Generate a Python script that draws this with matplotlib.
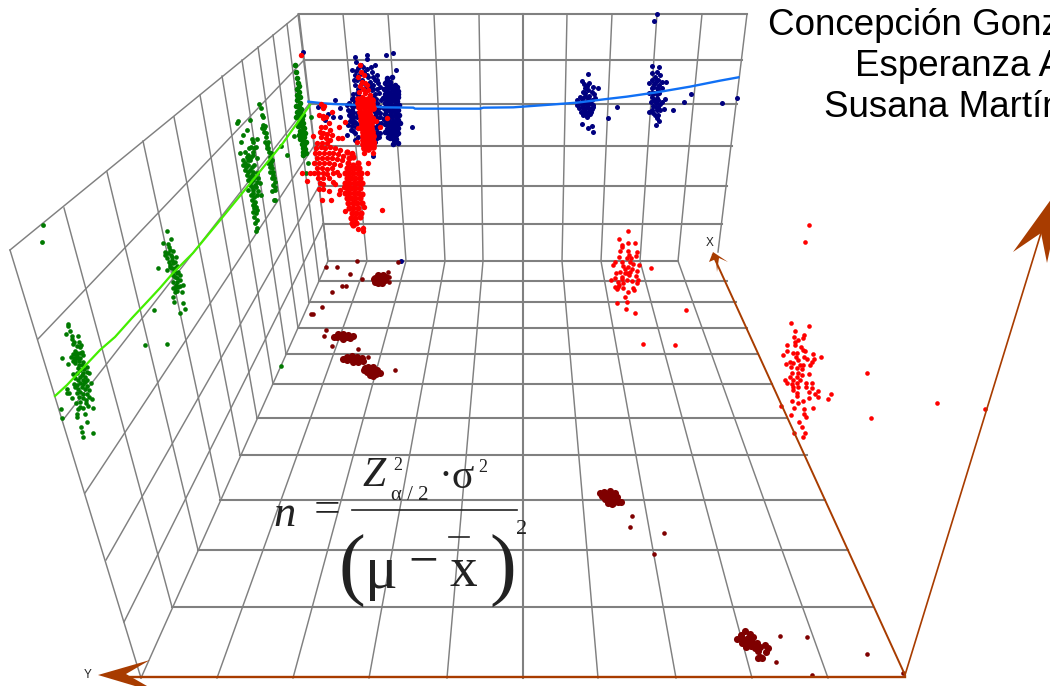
import matplotlib
matplotlib.use("Agg")
import matplotlib.pyplot as plt

# ---- data in 3x crop units (converted by crop origin below)
green_a = [(204,281),(204,288),(210,303),(197,313),(216,318),(233,317),(215,328),(222,335),(238,337),(244,345),(232,348),(218,342),(240,352),(246,366),(225,362),(218,372),(232,368),(248,375),(186,385),(214,382),(222,385),(240,385),(230,378),(218,392),(236,392),(248,395),(205,403),(225,400),(238,405),(262,412),(252,418),(218,432),(240,420),(262,425),(232,428),(268,428),(245,435),(255,440),(226,445),(248,450),(262,450),(240,458),(222,462),(232,465),(250,462),(272,460),(262,468),(226,470),(200,478),(240,485),(268,480),(208,488),(200,490),(232,490),(262,492),(217,503),(236,500),(250,505),(268,500),(228,518),(240,515),(258,520),(276,507),(265,528),(278,535),(183,537),(235,537),(248,535),(230,552),(254,553),(232,562),(186,565),(261,575),(244,590),(247,605),(278,608),(250,620),
 (225,372),(240,370),(230,385),(225,392),(245,405),(235,415),(250,428),(240,440),(255,455),(235,450),(245,470),(255,478),(235,478),(248,492),(258,510),(240,530),
 (512,28),(490,38),(503,42),(506,50),(519,62),(496,65),(495,75),(512,75),(528,82),(502,85),(515,90),(506,95),(520,100),(510,105),(475,113),(500,120),(515,115),(530,108),(522,122),(535,125),(540,135),(518,135),(530,145),(540,150),(520,155),(548,165),(528,165),(535,172),(518,175),(530,182),(545,185),(525,185),(519,202),(550,219),(522,215),(461,239),(556,236),(539,249),(434,344),(500,341),(500,3),(843,408),
 (510,60),(505,70),(515,80),(525,95),(510,110),(525,115),(530,130),(525,140),(530,155),(540,168),(525,175)]
green_b = [(128,675),(125,725),(715,362),(712,370),(750,360),(740,390),(728,405),(722,425),(755,418),(770,418),(752,440),(762,445),(720,460),(735,455),(745,465),(760,465),(730,480),(750,480),(770,475),(735,490),(728,495),(745,495),(762,495),(735,510),(750,510),(740,525),(755,525),(770,520),(745,540),(760,540),(775,535),(750,555),(765,555),(780,550),(745,570),(758,570),(775,572),(782,585),(752,585),(762,590),(755,600),(765,605),(758,615),(768,620),(760,635),(768,640),(762,650),(770,660),(765,670),(772,685),(768,692),
 (740,470),(752,470),(738,500),(755,500),(745,515),(758,515),(750,530),(765,530),(752,545),(770,545),(755,562),(768,562),(760,578),(770,585),(762,612),(770,630),(763,625),(748,445),(758,455),(768,440),(760,425),(745,480),
 (778,312),(782,325),(785,345),(790,352),(795,378),(785,385),(792,395),(798,410),(795,425),(802,435),(800,445),(808,455),(810,470),(812,485),(805,490),(815,505),(810,515),(820,525),(815,535),(825,545),(818,555),(825,570),(815,572),(825,600),(822,600),
 (798,400),(800,430),(805,445),(812,460),(815,480),(812,495),(818,515),(822,535),(810,500),(825,560),(788,375),(792,385),(803,425),
 (933,352),(923,488),(917,518),(860,465),(843,437),(882,408)]
green_column = [(885,195),(888,215),(890,235),(893,250),(897,258),(892,268),(898,275),(890,285),(900,290),(892,300),(900,308),(888,318),(896,322),(904,328),(890,335),(900,340),(908,345),(888,350),(898,352),(905,358),(898,365),(910,368),(895,378),(905,378),(912,385),(900,392),(908,395),(916,398),(898,405),(905,408),(913,410),(900,418),(908,422),(918,425),(905,432),(913,435),(908,445),(916,448),(910,456),(918,458),(910,465)]
blue_pts = [(38,155),(288,165),(308,158),(318,210),(1100,42),(1093,62),(366,381),(135,300),(150,325),(83,320),(115,342),(130,352),(150,352),(105,360),(172,405),(195,420),(333,782),
 (195,172),(230,165),(198,185),(230,178),(255,195),(212,195),(185,210),(242,200),(222,215),(196,225),(245,215),(260,225),(192,240),(235,232),(255,240),(265,250),(196,255),(250,255),(270,262),(205,268),(262,268),(190,282),(255,282),(268,280),(185,298),(195,305),(258,298),(272,300),(172,315),(185,318),(258,315),(175,330),(190,335),(265,332),(178,345),(192,350),(255,348),(270,350),(180,362),(195,365),(260,365),(272,368),(185,378),(198,382),(258,382),(190,392),(262,395),(250,405),(268,410),(255,425),(182,352),(188,368),(262,355),(205,230),(215,240),(240,245),(228,255),(245,270),(240,285),(205,285),(185,330),(250,320),(255,335),(178,310),(260,415),(205,410),
 (200,240),(212,252),(225,268),(250,268),(200,280),(215,295),(190,295),(248,292),(262,310),(240,300),(200,318),(190,322),(262,322),(252,330),(202,340),(186,342),(258,342),(270,338),(200,352),(186,360),(250,362),(265,375),(190,350),(200,372),(175,375),(182,390),(250,380),(262,385),(195,400),(258,405),(252,395),(270,400),(220,200),(205,205),(232,208),(198,212),(210,222),(230,225),(250,230),(262,240),(240,258),(180,335),(270,320),
 (893,222),(877,243),(882,252),(897,250),(908,262),(924,263),(885,265),(895,270),(880,275),(905,275),(912,282),(870,290),(885,288),(898,288),(860,300),(875,302),(890,302),(905,300),(915,295),(862,315),(878,315),(892,315),(908,315),(868,325),(882,328),(898,325),(910,322),(872,335),(888,335),(902,335),(880,345),(895,345),(890,352),(875,372),(907,378),(893,385),(910,396),(900,342),
 (885,278),(892,258),(878,295),(895,295),(870,308),(885,308),(900,308),(875,320),(890,322),(905,328),(880,335),(895,335),(888,345),
 (1085,198),(1107,202),(1085,220),(1100,215),(1095,230),(1110,225),(1085,240),(1100,240),(1115,245),(1128,245),(1078,250),(1092,252),(1108,255),(1085,265),(1100,265),(1115,265),(1078,280),(1092,280),(1108,280),(1085,292),(1100,295),(1125,298),(1115,305),(1083,305),(1098,308),(1110,312),(1090,318),(1105,322),(1122,326),(1078,335),(1100,330),(1090,340),(1105,345),(1100,355),(1108,362),(1097,375),
 (1095,250),(1105,240),(1090,262),(1105,270),(1085,280),(1100,282),(1092,300),(1105,300),(1098,320),(1085,330),(1110,330),(1095,345),
 (954,354),(980,320),(1150,331),(1182,306),(1202,283),(1295,310),(1340,293),(248,468)]
blue_column = [(290,235),(305,232),(285,250),(300,245),(315,255),(322,260),(282,268),(298,262),(312,270),(325,272),(285,282),(300,278),(315,285),(325,290),(280,295),(293,295),(308,298),(322,302),(285,310),(300,310),(315,315),(328,315),(282,325),(295,328),(310,330),(325,330),(285,342),(300,345),(315,345),(328,345),(282,358),(295,360),(310,362),(330,368),(285,372),(300,375),(318,378),(325,385),(290,388),(305,390),(320,395),(295,400),(310,405),(325,400),(300,415),(318,418),(325,430),(308,432),(285,395),(325,360),
 (292,240),(300,255),(290,262),(305,268),(318,262),(292,272),(306,285),(295,285),(318,275),(288,292),(300,288),(312,292),(325,282),(290,302),(302,302),(316,303),(292,318),(306,318),(320,322),(288,332),(302,335),(318,336),(292,350),(306,352),(320,354),(290,365),(302,368),(316,370),(295,382),(310,382),(322,375),(298,392),(314,392),(305,398),(318,405),(302,408),(312,420),(295,410)]
red_pts = [(210,195),(212,215),(205,230),(222,225),(215,245),(225,250),(210,258),(232,255),(218,268),(235,270),(208,275),(226,280),(215,290),(240,285),(235,488),(292,355),(258,362),(270,382),(205,385),(252,425),(248,355),(200,425),(222,458),(250,458),
 (34,165),(92,312),(102,318),(125,335),(98,325),(88,345),(100,348),(108,352),(118,370),(100,355),(92,380),(105,382),(120,390),(90,395),(100,398),(112,402),(125,405),(145,415),(155,415),(92,412),(108,415),(120,420),(82,428),(95,428),(110,430),(70,408),(148,380),(165,365),(78,445),(92,442),(106,445),(120,442),(134,445),(150,450),(170,455),(185,460),(75,460),(88,458),(102,460),(116,458),(130,460),(145,462),(158,468),(80,475),(95,474),(110,475),(125,474),(140,478),(155,480),(72,490),(88,490),(103,490),(118,490),(132,492),(150,495),(80,505),(95,505),(110,507),(125,505),(140,515),(60,520),(72,518),(85,520),(100,520),(112,522),(128,520),(147,525),(85,535),(98,535),(118,535),(128,545),(90,550),(100,552),(135,552),(118,572),(88,568),(100,568),(150,570),(162,560),(148,582),(95,600),(122,600),(36,518),(50,543),(203,688),(218,683),(219,692),(275,631),(230,518),(222,620),(165,632)]
red_column = [(205,298),(220,298),(235,298),(245,300),(205,310),(218,310),(232,310),(245,312),(208,322),(222,322),(236,322),(248,325),(210,335),(224,335),(238,335),(212,348),(226,348),(240,348),(214,360),(228,360),(242,360),(215,372),(229,372),(243,372),(216,384),(230,384),(244,384),(218,396),(232,396),(246,396),(220,408),(234,408),(248,408),(218,420),(232,420),(245,420),(220,432),(235,432),(248,432),(222,445),(235,448),(250,442)]
red_lower = [(172,455),(185,462),(178,475),(190,470),(175,490),(205,490),(190,495),(170,505),(182,505),(195,505),(208,505),(165,520),(178,520),(190,520),(203,520),(214,520),(170,535),(183,535),(196,535),(210,535),(165,550),(178,550),(191,550),(204,550),(216,550),(170,565),(183,565),(196,565),(210,565),(165,580),(178,580),(191,580),(204,580),(216,582),(170,595),(183,595),(196,595),(210,595),(175,610),(188,610),(200,610),(215,610),(178,625),(190,625),(205,625),(185,640),(198,640),(212,640),(182,655),(195,655),(210,650),(185,668),(198,668),(190,675)]
red_far = [(145,62),(118,88),(145,98),(165,98),(125,105),(125,112),(120,123),(145,123),(170,125),(148,135),(118,142),(140,145),(152,145),(168,138),(125,155),(150,155),(105,155),(98,165),(158,162),(176,165),(130,168),(145,170),(135,178),(155,178),(172,182),(120,187),(108,190),(140,190),(148,195),(168,198),(105,205),(125,207),(140,210),(155,213),(92,210),(115,215),(175,210),(170,218),(105,230),(118,225),(128,235),(158,235),(110,238),(144,245),(162,240),(136,262),(142,275),(110,279),(138,296),(165,309),(213,173),(319,299),(190,401),(285,404),
 (135,190),(125,200),(150,185),(128,218),(115,232),
 (634,340),(686,347),(644,364),(671,376),(643,380),(668,385),(655,390),(645,395),(621,404),(645,405),(662,412),(668,420),(620,424),(638,428),(652,430),(676,424),(699,432),(610,435),(648,440),(672,442),(723,441),(655,450),(682,448),(702,446),(630,455),(640,458),(618,462),(695,455),(690,465),(660,465),(670,465),(632,472),(650,475),(665,478),(635,490),(655,490),(688,492),(630,500),(650,500),(665,495),(615,510),(640,510),(660,510),(622,518),(635,522),(650,520),(678,518),(695,518),(638,532),(655,530),(678,530),(695,535),(638,540),(652,548),(688,547),(715,543),(705,553),(753,551),(650,558),(713,560),(686,564),(635,572),(654,580),(668,572),(743,568),(604,588),(642,595),(671,598),(699,595),(634,614),(672,612),(678,622),(658,635),(665,650),(675,670),(643,669),(668,680),(862,490),(872,625),(1070,578),(1215,598),(688,44),(676,96)]
dark_single_a = [(978,110),(1010,110),(1071,93),(1195,96),(1050,133),(1087,148),(1027,168),(1037,168),(995,187),(965,232),(933,253),(938,253),(978,300),(972,317),(995,347),(1073,358),(1105,381),(1186,420),(1165,127),(1168,142),(1167,155)]
dark_blob_a = [(1125,145),(1135,135),(1150,135),(1158,140),(1125,155),(1140,150),(1150,150),(1135,160),(1145,160),(1155,150),(1122,148),
 (1003,320),(1015,312),(1030,312),(1045,315),(1058,318),(1010,322),(1025,322),(1040,322),(1050,325),(1030,328),(1020,318),
 (1030,388),(1040,380),(1055,378),(1070,380),(1085,385),(1040,390),(1055,388),(1070,390),(1088,392),(1060,396),(1075,396),
 (1092,420),(1105,412),(1120,410),(1130,420),(1140,430),(1100,425),(1115,422),(1128,432),(1110,435),(1120,438),(1095,415)]
dark_single_b = [(155,168),(149,201),(251,218),(223,283),(601,528),(681,531),(862,582),(587,606),(696,646),(969,640)]
dark_blob_b = [(60,100),(72,97),(90,92),(105,100),(65,108),(80,105),(95,105),(110,112),(75,118),(90,118),(105,122),(122,125),(85,128),(100,130),(115,127),(95,133),
 (495,512),(482,525),(510,522),(472,538),(490,538),(505,535),(520,530),(485,548),(500,548),(515,545),(530,550),(498,562),(512,558),(525,565),(540,560),(556,555),(563,565),(558,575),(535,572),(540,590),(545,595),(535,595)]
blue_curve = [(55,305),(100,310),(130,312),(200,315),(280,322),(370,323),(375,326),(570,326),(580,323),(670,322),(780,314),(860,308),(950,297),(1010,290),(1100,277),(1200,260),(1290,242),(1345,232)]
green_curve = [(55,396),(67,385),(83,368),(100,350),(115,337),(132,318),(147,302),(160,288),(173,273),(193,253),(212,230),(253,180),(283,143),(310,105)]
author_lines = ["Concepción Gonz", "Esperanza A", "Susana Martín"]
axis_labels = ["X", "Y"]

def crop(points, ox, oy):
    return [ox + p[0] / 3 for p in points], [oy + p[1] / 3 for p in points]

GRID = "#808080"
BROWN = "#a83c00"
fig = plt.figure(figsize=(10.5, 6.86), dpi=100)
ax = fig.add_axes([0, 0, 1, 1])
ax.set_xlim(0, 1050)
ax.set_ylim(686, 0)
ax.axis("off")

# grid
back_top = [298, 343, 388, 434, 479, 523, 567, 612, 657, 702, 747]
back_mid = [328, 367, 406, 445, 483, 523, 562, 601, 640, 678, 718]
floor_front = [141, 217, 293, 369, 447, 523, 598, 676, 752, 828]
for i, (a, b) in enumerate(zip(back_top, back_mid)):
    ax.plot([a, b], [14, 261 if i < 10 else 252], color=GRID, lw=1.5 if i == 5 else 1.05, zorder=1)
for i, (a, b) in enumerate(zip(back_mid, floor_front)):
    ax.plot([a, b], [261, 678], color=GRID, lw=1.5 if i == 5 else 1.05, zorder=1)
for y, l, r in zip([14, 60, 104, 146, 186, 224, 261], [299, 304, 309, 314, 319, 323, 328], [747, 742, 737, 732, 727, 722, 678]):
    ax.plot([l, r], [y, y], color=GRID, lw=1.5, zorder=1)
floor_y = [281, 302, 328, 354, 384, 418, 455, 500, 550, 607]
floor_l = [319, 309, 298, 286, 273, 257, 240, 220, 198, 172]
floor_r = [727, 736, 747, 758, 772, 787, 807, 825, 848, 873]
for y, l, r in zip(floor_y, floor_l, floor_r):
    ax.plot([l, r], [y, y], color=GRID, lw=1.5, zorder=1)
wall_top = [(299,14),(287,24),(273,35),(258,47),(242,60),(222,76),(200,95),(174,117),(143,141),(107,172),(64,208),(10,250)]
wall_low = [(328,261),(319,281),(309,302),(298,328),(286,354),(273,384),(257,418),(240,455),(220,498),(198,550),(172,607),(141,678)]
for p, q in zip(wall_top, wall_low):
    ax.plot([p[0], q[0]], [p[1], q[1]], color=GRID, lw=1.05, zorder=1)
row_back = [(299,14),(304,60),(309,104),(314,146),(319,186),(323,224)]
row_front = [(10,250),(38,339),(63,420),(85,493),(106,560),(124,622)]
for p, q in zip(row_back, row_front):
    ax.plot([p[0], q[0]], [p[1], q[1]], color=GRID, lw=1.05, zorder=1)

# formula
SERIF = "Liberation Serif"
ftxt = dict(family=SERIF, color="#222222", ha="center", va="center", zorder=2)
ax.text(285, 515, "n", fontsize=32, style="italic", **ftxt)
ax.text(327, 511, "=", fontsize=34, **ftxt)
ax.text(374, 476, "Z", fontsize=30, style="italic", **ftxt)
ax.text(398, 465, "2", fontsize=13, **ftxt)
ax.text(410, 496, "α / 2", fontsize=15, **ftxt)
ax.text(457, 478, "·σ", fontsize=30, **ftxt)
ax.text(483, 468, "2", fontsize=13, **ftxt)
ax.plot([352, 517], [510, 510], color="#222222", lw=1.2, zorder=2)
ax.text(352, 571, "(", fontsize=58, **ftxt)
ax.text(381, 573, "μ", fontsize=44, **ftxt)
ax.text(423, 563, "−", fontsize=38, **ftxt)
ax.text(463, 572, "x", fontsize=40, **ftxt)
ax.plot([449, 469], [537, 537], color="#222222", lw=1.2, zorder=2)
ax.text(503, 571, ")", fontsize=58, **ftxt)
ax.text(522, 530, "2", fontsize=16, **ftxt)

# points and fitted lines
S = 11
GREEN, NAVY, RED, DARK = "#007a00", "#00007f", "#ff0000", "#7f0000"
x, y = crop(green_a, 0, 230); ax.scatter(x, y, s=S, c=GREEN, lw=0, zorder=3)
x, y = crop(green_b, 0, 0); ax.scatter(x, y, s=S + 1, c=GREEN, lw=0, zorder=3)
x, y = crop(green_column, 0, 0); ax.scatter(x, y, s=16, c=GREEN, lw=0, zorder=3)
ax.plot([p[0] for p in green_curve], [p[1] for p in green_curve], color="#44ee00", lw=1.6, zorder=4)
x, y = crop(blue_pts, 290, 0); ax.scatter(x, y, s=S + 2, c=NAVY, lw=0, zorder=3)
x, y = crop(blue_column, 290, 0); ax.scatter(x, y, s=16, c=NAVY, lw=0, zorder=3)
x, y = crop(blue_curve, 290, 0); ax.plot(x, y, color="#1070f5", lw=1.7, zorder=4)
x, y = crop(red_pts, 290, 0); ax.scatter(x, y, s=S + 4, c=RED, lw=0, zorder=5)
x, y = crop(red_column, 290, 0); ax.scatter(x, y, s=24, c=RED, lw=0, zorder=5)
x, y = crop(red_lower, 290, 0); ax.scatter(x, y, s=20, c=RED, lw=0, zorder=5)
x, y = crop(red_far, 580, 210); ax.scatter(x, y, s=S, c=RED, lw=0, zorder=5)
x, y = crop(dark_single_a, 0, 230); ax.scatter(x, y, s=S, c=DARK, lw=0, zorder=5)
x, y = crop(dark_blob_a, 0, 230); ax.scatter(x, y, s=26, c=DARK, lw=0, zorder=5)
x, y = crop(dark_single_b, 580, 460); ax.scatter(x, y, s=S, c=DARK, lw=0, zorder=5)
x, y = crop(dark_blob_b, 580, 460); ax.scatter(x, y, s=26, c=DARK, lw=0, zorder=5)

# axes arrows
ax.plot([130, 905], [677, 677], color=BROWN, lw=1.7, zorder=6)
ax.plot([713, 905], [255, 675], color=BROWN, lw=1.4, zorder=6)
ax.plot([905, 1041], [675, 233], color=BROWN, lw=1.2, zorder=6)
ax.fill([98, 150, 126, 147, 135], [675, 660, 674, 686, 686], color=BROWN, lw=0, zorder=6)
ax.fill([713, 709, 716, 717, 719, 728], [252, 262, 259, 272, 258, 262], color=BROWN, lw=0, zorder=6)
ax.fill([1013, 1041, 1047, 1065], [252, 233, 263, 180], color=BROWN, lw=0, zorder=6)
ax.text(710, 243, axis_labels[0], fontsize=8.5, family="Liberation Sans", ha="center", va="center", color="#222222")
ax.text(88, 675, axis_labels[1], fontsize=8.5, family="Liberation Sans", ha="center", va="center", color="#222222")

# cropped author block
for t, xl, yb in zip(author_lines, [768, 855, 824], [35, 76, 117]):
    ax.text(xl, yb, t, fontsize=26.5, family="Liberation Sans", ha="left", va="baseline", color="#000000", clip_on=True)

fig.savefig("out.png", dpi=100)
